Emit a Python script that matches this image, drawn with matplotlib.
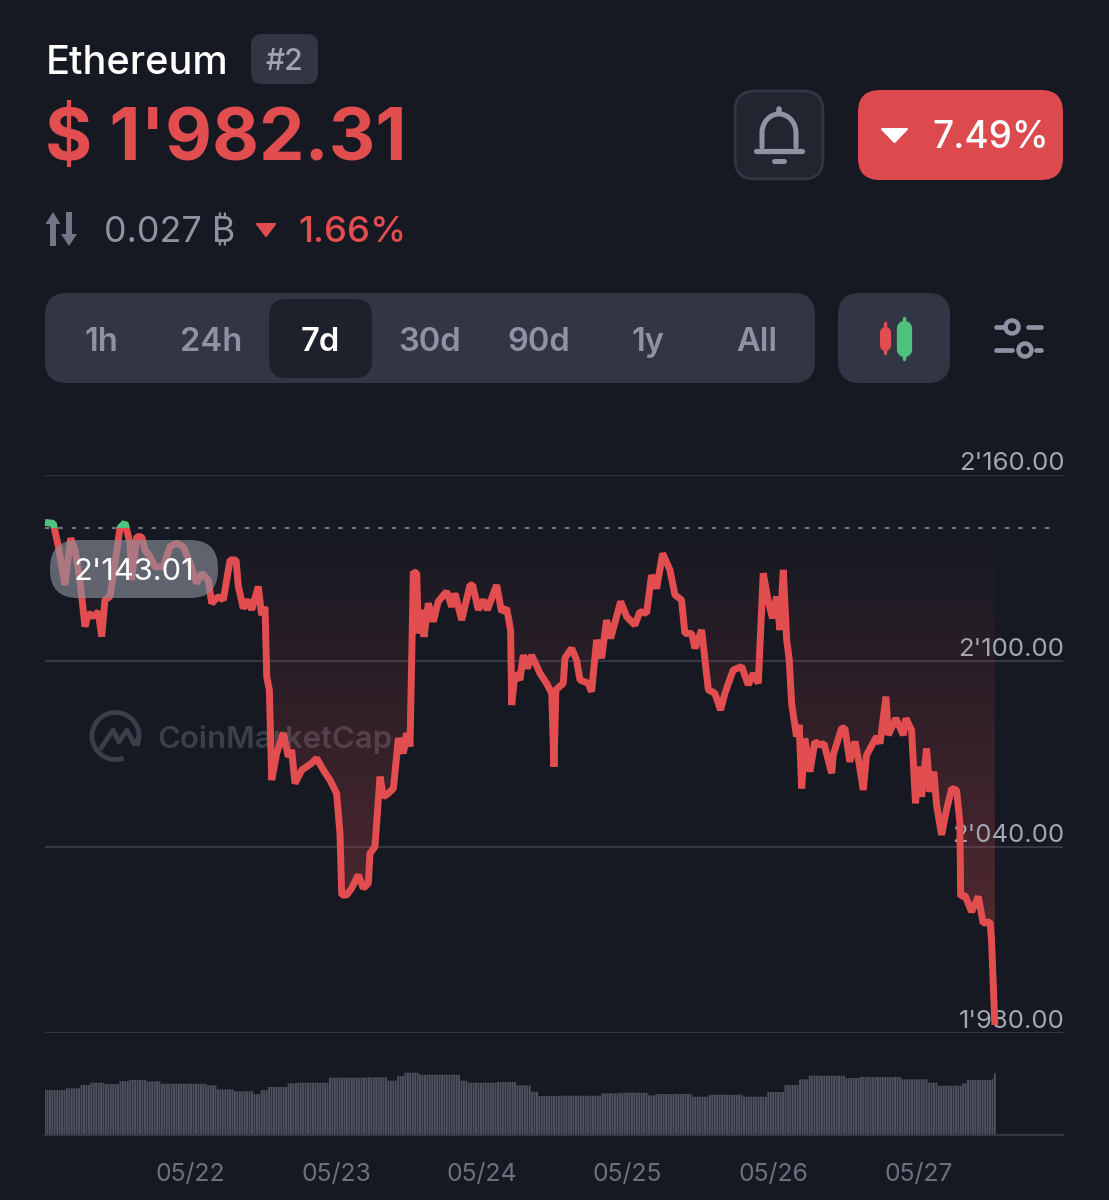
"""Ethereum 7d price card, dark theme"""
import matplotlib
matplotlib.use('Agg')
import matplotlib.pyplot as plt
import numpy as np
from matplotlib.patches import FancyBboxPatch, Polygon, Circle, Arc

plt.rcParams['font.family'] = ['Inter', 'DejaVu Sans']

# days since the start of the chart (05/21 00:00), price in USD
days = [0.000, 0.057, 0.092, 0.137, 0.176, 0.206, 0.240, 0.275, 0.298, 0.332, 0.366, 0.389, 0.412,
        0.446, 0.481, 0.515, 0.549, 0.584, 0.595, 0.630, 0.664, 0.687, 0.721, 0.756, 0.813, 0.859,
        0.904, 0.950, 0.996, 1.042, 1.076, 1.122, 1.145, 1.191, 1.225, 1.271, 1.312, 1.328, 1.362,
        1.397, 1.420, 1.465, 1.488, 1.511, 1.523, 1.541, 1.557, 1.591, 1.637, 1.671, 1.694, 1.717,
        1.763, 1.797, 1.831, 1.866, 1.912, 1.957, 2.003, 2.026, 2.038, 2.072, 2.106, 2.152, 2.186,
        2.221, 2.232, 2.266, 2.301, 2.324, 2.358, 2.393, 2.427, 2.461, 2.484, 2.507, 2.530, 2.553,
        2.564, 2.587, 2.603, 2.633, 2.667, 2.701, 2.759, 2.793, 2.816, 2.862, 2.919, 2.937, 2.976,
        3.010, 3.038, 3.102, 3.136, 3.171, 3.198, 3.205, 3.228, 3.262, 3.285, 3.313, 3.342, 3.400,
        3.445, 3.480, 3.496, 3.509, 3.560, 3.571, 3.617, 3.651, 3.674, 3.731, 3.754, 3.789, 3.823,
        3.857, 3.885, 3.954, 3.995, 4.052, 4.086, 4.132, 4.166, 4.201, 4.242, 4.292, 4.327, 4.372,
        4.395, 4.441, 4.464, 4.510, 4.556, 4.601, 4.640, 4.670, 4.727, 4.785, 4.830, 4.865, 4.899,
        4.933, 4.968, 4.997, 5.025, 5.048, 5.071, 5.094, 5.112, 5.128, 5.162, 5.180, 5.197, 5.219,
        5.254, 5.288, 5.322, 5.350, 5.403, 5.414, 5.471, 5.494, 5.528, 5.563, 5.586, 5.620, 5.643,
        5.712, 5.735, 5.776, 5.792, 5.844, 5.895, 5.913, 5.952, 5.979, 5.998, 6.021, 6.055, 6.078,
        6.105, 6.124, 6.158, 6.192, 6.227, 6.261, 6.284, 6.289, 6.318, 6.364, 6.410, 6.444, 6.490,
        6.501, 6.524]
prices = [2144.7, 2144.4, 2136.9, 2124.5, 2139.6, 2135.8, 2126.1, 2111.1, 2115.4, 2114.3, 2115.9, 2107.9, 2119.7,
          2120.8, 2131.5, 2143.0, 2144.6, 2138.0, 2126.1, 2140.1, 2140.1, 2135.8, 2133.7, 2130.4, 2130.4, 2136.9,
          2138.0, 2136.9, 2131.5, 2125.1, 2128.3, 2126.1, 2118.6, 2120.8, 2119.7, 2132.6, 2132.6, 2124.0, 2117.0,
          2119.7, 2116.5, 2124.0, 2114.8, 2117.5, 2094.9, 2090.6, 2061.6, 2070.2, 2076.7, 2069.1, 2071.3, 2060.5,
          2064.8, 2065.9, 2067.0, 2068.6, 2064.8, 2061.6, 2057.3, 2044.4, 2024.5, 2024.5, 2026.7, 2031.0, 2026.7,
          2028.3, 2037.9, 2040.1, 2062.7, 2056.2, 2057.3, 2058.9, 2075.1, 2070.2, 2076.7, 2072.4, 2128.8, 2128.3,
          2108.9, 2116.5, 2107.8, 2118.6, 2112.7, 2119.2, 2122.4, 2117.5, 2121.8, 2113.2, 2124.5, 2124.5, 2116.5,
          2119.7, 2116.5, 2124.5, 2115.9, 2117.0, 2110.0, 2085.8, 2096.0, 2093.9, 2101.9, 2097.6, 2101.9, 2096.0,
          2092.8, 2089.6, 2065.9, 2090.7, 2092.8, 2100.9, 2104.1, 2100.3, 2093.9, 2092.8, 2090.1, 2106.8, 2100.9,
          2113.2, 2107.3, 2119.2, 2114.3, 2111.6, 2115.9, 2115.4, 2127.7, 2123.4, 2134.7, 2129.4, 2121.3, 2119.7,
          2108.9, 2108.9, 2104.1, 2110.0, 2090.7, 2089.6, 2084.2, 2089.6, 2097.1, 2098.2, 2092.3, 2096.0, 2092.8,
          2128.3, 2119.2, 2113.8, 2120.8, 2110.0, 2129.4, 2106.8, 2100.3, 2086.3, 2075.6, 2079.4, 2058.9, 2075.0,
          2064.3, 2074.0, 2072.9, 2073.4, 2063.8, 2069.7, 2078.3, 2078.3, 2067.5, 2074.0, 2068.6, 2058.4, 2069.7,
          2075.6, 2073.4, 2088.5, 2076.1, 2081.5, 2076.1, 2081.5, 2077.7, 2054.1, 2065.9, 2056.2, 2071.8, 2057.8,
          2064.3, 2053.5, 2043.9, 2052.0, 2058.9, 2058.4, 2047.6, 2024.0, 2024.5, 2019.1, 2024.0, 2015.4, 2015.9,
          2010.0, 1982.6]
base_price = 2143.01

# volume bars come in runs of nearly equal height: level and number of bars
vol_levels = [45, 46.7, 50, 52.3, 51, 54, 55, 53.7, 51.3, 49.7, 45.7, 43.7, 41, 45, 48, 51.7, 52.3, 52,
              57.3, 57.7, 54.3, 59, 62.3, 60.3, 54.3, 52.3, 53, 49.7, 43.3, 39, 39.3, 41.7, 42.3, 39.7,
              41, 38.3, 40.3, 38.3, 43, 50, 55.7, 59.3, 57, 58, 55.7, 52.3, 49.3, 51.7, 55, 56, 61.7]
vol_runs = [9, 6, 4, 6, 6, 4, 7, 6, 19, 4, 7, 8, 3, 3, 8, 4, 12, 1,
            15, 9, 4, 3, 6, 17, 3, 12, 8, 6, 3, 8, 18, 7, 12, 3,
            15, 7, 14, 10, 7, 6, 4, 15, 6, 17, 11, 4, 10, 2, 10, 1, 1]

price_ticks = [2160, 2100, 2040, 1980]
price_labels = ["2'160.00", "2'100.00", "2'040.00", "1'980.00"]
date_ticks = [1, 2, 3, 4, 5, 6]
date_labels = ['05/22', '05/23', '05/24', '05/25', '05/26', '05/27']
ranges = ['1h', '24h', '7d', '30d', '90d', '1y', 'All']

BG = '#161922'
RED = '#e24d50'
GREEN = '#4fc27e'
GREY = '#8f92a3'
PANEL = '#323543'
W, H = 1109, 1200

days = np.array(days)
prices = np.array(prices)
volumes = np.repeat(vol_levels, vol_runs)

fig = plt.figure(figsize=(W / 100, H / 100), dpi=100, facecolor=BG)


def px_axes(left, top, right, bottom):
    return fig.add_axes([left / W, 1 - bottom / H, (right - left) / W, (bottom - top) / H])


def round_box(axis, x0, y0, x1, y1, r, color, edge='none', lw=0, z=1):
    axis.add_patch(FancyBboxPatch((x0 + r, y0 + r), x1 - x0 - 2 * r, y1 - y0 - 2 * r,
                                  boxstyle='round,pad={},rounding_size={}'.format(r, r),
                                  fc=color, ec=edge, lw=lw, zorder=z))


def triangle(axis, x0, x1, y0, y1, color):
    axis.add_patch(Polygon([(x0, y0), (x1, y0), ((x0 + x1) / 2, y1)], closed=True, fc=color,
                           ec=color, lw=1.5, joinstyle='round'))


# watermark layer sits behind the price line
under = px_axes(0, 0, W, H)
under.set_xlim(0, W)
under.set_ylim(H, 0)
under.axis('off')
under.set_zorder(0)
WM = '#3c3f4b'
under.add_patch(Arc((115.5, 736), 47, 47, theta1=70, theta2=385, ec=WM, lw=3.4))
under.plot([101, 113, 119, 127, 134, 139], [748, 730, 742, 730, 744, 737], color=WM, lw=3.4,
           solid_capstyle='round')
under.text(157, 740, 'CoinMarketCap', color=WM, fontsize=22.4, fontweight='semibold', va='center', ha='left')

# price chart
ax = px_axes(45, 475, 1063, 1033)
ax.set_zorder(1)
ax.patch.set_visible(False)
ax.set_xlim(0, 6.992)
ax.set_ylim(1980, 2160)
for side in ax.spines.values():
    side.set_visible(False)
ax.set_xticks([])
ax.set_yticks(price_ticks)
ax.set_yticklabels([])
ax.tick_params(length=0)
ax.grid(axis='y', color='#343745', lw=1.5)
ax.set_axisbelow(True)
for val, lab in zip(price_ticks, price_labels):
    ax.annotate(lab, (1, val), xycoords=ax.get_yaxis_transform(), xytext=(1.0, 8.6), textcoords='offset points',
                ha='right', va='center', color='#a3a6b3', fontsize=18.5, zorder=2, annotation_clip=False)

# area between the open price and the line, stronger towards the bottom
area = ax.fill_between(days, np.minimum(prices, base_price), base_price, fc='none', ec='none')
ramp = np.zeros((256, 2, 4))
ramp[..., :3] = matplotlib.colors.to_rgb(RED)
ramp[..., 3] = np.linspace(0, 0.36, 256)[:, None]
img = ax.imshow(ramp, extent=(0, days[-1], 1980, base_price), origin='upper', aspect='auto', zorder=1.5)
img.set_clip_path(area.get_paths()[0], transform=ax.transData)
ax.set_xlim(0, 6.992)
ax.set_ylim(1980, 2160)

ax.plot([0, 6.95], [base_price, base_price], color='#6f7382', lw=1.6, dashes=(2.0, 4.0), zorder=2.2)

red_line, = ax.plot(days, prices, color=RED, lw=5, solid_joinstyle='bevel', solid_capstyle='butt', zorder=3)
green_line, = ax.plot(days, prices, color=GREEN, lw=5, solid_joinstyle='bevel', solid_capstyle='butt', zorder=3.1)
low = plt.Rectangle((-1, 1970), 9, base_price - 1970, transform=ax.transData)
high = plt.Rectangle((-1, base_price), 9, 30, transform=ax.transData)
red_line.set_clip_path(low)
green_line.set_clip_path(high)

# volume bars and dates
vol_ax = px_axes(45, 1035, 1063, 1135)
vol_ax.set_zorder(1)
vol_ax.patch.set_visible(False)
vol_x = np.linspace(0, days[-1], len(volumes))
vol_bars = vol_ax.bar(vol_x, volumes, width=0.8 * (vol_x[1] - vol_x[0]), color='#4e515e', lw=0)
for bar in vol_bars:
    bar.set_snap(False)
vol_ax.set_xlim(0, 6.992)
vol_ax.set_ylim(0, 100)
for side in vol_ax.spines.values():
    side.set_visible(False)
vol_ax.spines['bottom'].set_visible(True)
vol_ax.spines['bottom'].set_color('#343745')
vol_ax.spines['bottom'].set_linewidth(1.5)
vol_ax.set_yticks([])
vol_ax.set_xticks(date_ticks)
vol_ax.set_xticklabels(date_labels, color='#6d7080', fontsize=17.8)
vol_ax.tick_params(axis='x', length=0, pad=20.5)

# everything else on the card, in pixels
ui = px_axes(0, 0, W, H)
ui.set_xlim(0, W)
ui.set_ylim(H, 0)
ui.axis('off')
ui.set_zorder(5)

ui.text(46, 63, 'Ethereum', color='white', fontsize=28.6, fontweight='medium', va='center', ha='left')
round_box(ui, 251, 34, 318, 84, 11, PANEL)
ui.text(284, 62, '#2', color='#a0a3b3', fontsize=21.5, fontweight='medium', va='center', ha='center')
ui.text(45, 141, "$ 1'982.31", color=RED, fontsize=52, fontweight='bold', va='center', ha='left')

# bell button
round_box(ui, 735, 91, 823, 179, 20, '#222430', edge=PANEL, lw=2)
bt = np.linspace(0, np.pi, 60)
bell_x = np.r_[762, 779 - 17 * np.cos(bt), 796]
bell_y = np.r_[147, 133 - 19 * np.sin(bt), 147]
ui.plot(bell_x, bell_y, color=GREY, lw=3.6, solid_capstyle='round')
ui.plot([756, 802], [151, 151], color=GREY, lw=3.8, solid_capstyle='round')
ui.plot([779, 779], [109, 113], color=GREY, lw=4, solid_capstyle='round')
ui.plot([774, 784], [160.5, 160.5], color=GREY, lw=3.6, solid_capstyle='round')

# change button
round_box(ui, 858, 90, 1063, 180, 22, '#dc4a4e')
triangle(ui, 882, 907, 129, 142, 'white')
ui.text(991, 138.5, '7.49%', color='white', fontsize=26.6, fontweight='medium', va='center', ha='center')

# btc row
ui.add_patch(Polygon([(53, 212), (60.5, 224), (56, 224), (56, 246), (50, 246), (50, 224), (45.5, 224)],
                     closed=True, fc='#727787', ec='none'))
ui.add_patch(Polygon([(69, 246), (77, 234), (72, 234), (72, 212), (66, 212), (66, 234), (61, 234)],
                     closed=True, fc='#727787', ec='none'))
ui.text(104, 232.5, '0.027 ₿', color=GREY, fontsize=25.8, fontweight='normal', va='center', ha='left')
triangle(ui, 257, 275, 224, 236, RED)
ui.text(298, 232.5, '1.66%', color=RED, fontsize=26.2, fontweight='medium', va='center', ha='left')

# range selector
round_box(ui, 45, 293, 815, 383, 22, PANEL)
round_box(ui, 269, 299, 372, 378, 17, '#1e202b', z=2)
for lab, cx in zip(ranges, [101, 211, 320, 430, 539, 648, 757]):
    ui.text(cx, 342.5, lab, color='white' if lab == '7d' else GREY, fontsize=23.5, fontweight='semibold',
            va='center', ha='center', zorder=3)

# candle button
round_box(ui, 838, 293, 950, 383, 22, PANEL)
ui.plot([885, 885], [323, 353], color=RED, lw=2.5, solid_capstyle='round', zorder=3)
ui.plot([885, 885], [332, 345], color=RED, lw=8, solid_capstyle='round', zorder=3)
ui.plot([904, 904], [318, 359], color=GREEN, lw=2.5, solid_capstyle='round', zorder=3)
ui.plot([904, 904], [328, 349], color=GREEN, lw=11, solid_capstyle='round', zorder=3)

# sliders icon
for y0, a0, a1, cx, b0, b1 in [(327, 996, 1005, 1012, 1028, 1041), (350, 996, 1012, 1025, 1036, 1041)]:
    ui.plot([a0, a1], [y0, y0], color=GREY, lw=3.4, solid_capstyle='round')
    ui.plot([b0, b1], [y0, y0], color=GREY, lw=3.4, solid_capstyle='round')
    ui.add_patch(Circle((cx, y0), 6.5, fc='none', ec=GREY, lw=3.2))

# hover pill over the open price
round_box(ui, 50, 540, 218, 598, 28, (0.55, 0.57, 0.62, 0.62))
ui.text(134.5, 572, "2'143.01", color='white', fontsize=22.2, va='center', ha='center')

fig.savefig('out.png', dpi=100, facecolor=BG)
